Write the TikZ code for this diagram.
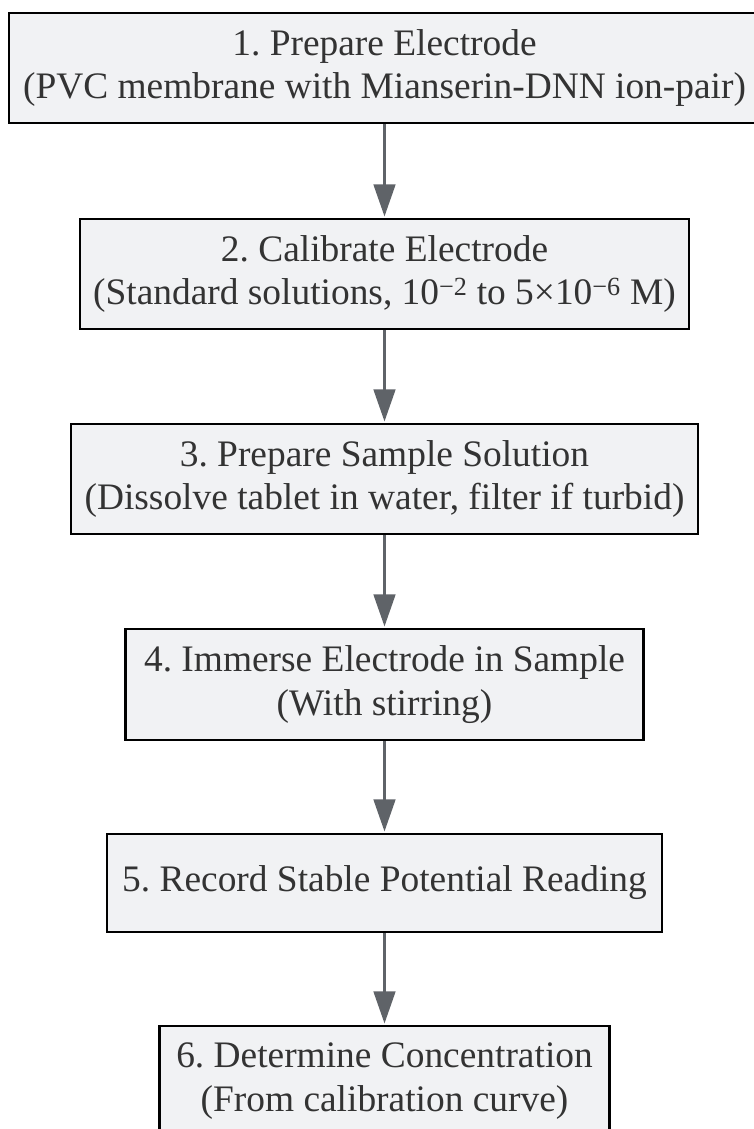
\documentclass[tikz,border=0pt]{standalone}
\usepackage{fontspec}
\setmainfont{Liberation Serif}
\usetikzlibrary{arrows.meta}
\definecolor{boxfill}{HTML}{F1F2F4}
\definecolor{txt}{HTML}{333333}
\definecolor{arrowc}{HTML}{5F6368}
\frenchspacing
\tikzset{
  stepbox/.style={draw=black, line width=2.7pt, fill=boxfill, text=txt,
    align=center, inner sep=0pt, font=\fontsize{37.4pt}{43.5pt}\selectfont},
  flow/.style={draw=arrowc, line width=2.4pt,
    -{Triangle[length=32pt,width=21.7pt]}, shorten >=1.2pt}
}
\begin{document}
\begin{tikzpicture}[x=1pt,y=-1pt]
\useasboundingbox (0,0) rectangle (753,1129);
\node[stepbox, minimum width=751pt, minimum height=110pt] (b1) at (384.5,68)
  {1. Prepare Electrode\\(PVC membrane with Mianserin-DNN ion-pair)};
\node[stepbox, minimum width=609pt, minimum height=110pt] (b2) at (384.5,274)
  {2. Calibrate Electrode\\(Standard solutions, 10\textsuperscript{−2} to 5×10\textsuperscript{−6} M)};
\node[stepbox, minimum width=627pt, minimum height=110pt] (b3) at (384.5,479)
  {3. Prepare Sample Solution\\(Dissolve tablet in water, filter if turbid)};
\node[stepbox, minimum width=518pt, minimum height=111pt] (b4) at (384.5,684.5)
  {4. Immerse Electrode in Sample\\(With stirring)};
\node[stepbox, minimum width=555pt, minimum height=98pt] (b5) at (384.5,883)
  {5. Record Stable Potential Reading};
\node[stepbox, minimum width=450pt, minimum height=110pt] (b6) at (384.5,1081)
  {6. Determine Concentration\\(From calibration curve)};
\draw[flow] (b1.south) -- (b2.north);
\draw[flow] (b2.south) -- (b3.north);
\draw[flow] (b3.south) -- (b4.north);
\draw[flow] (b4.south) -- (b5.north);
\draw[flow] (b5.south) -- (b6.north);
\end{tikzpicture}
\end{document}
